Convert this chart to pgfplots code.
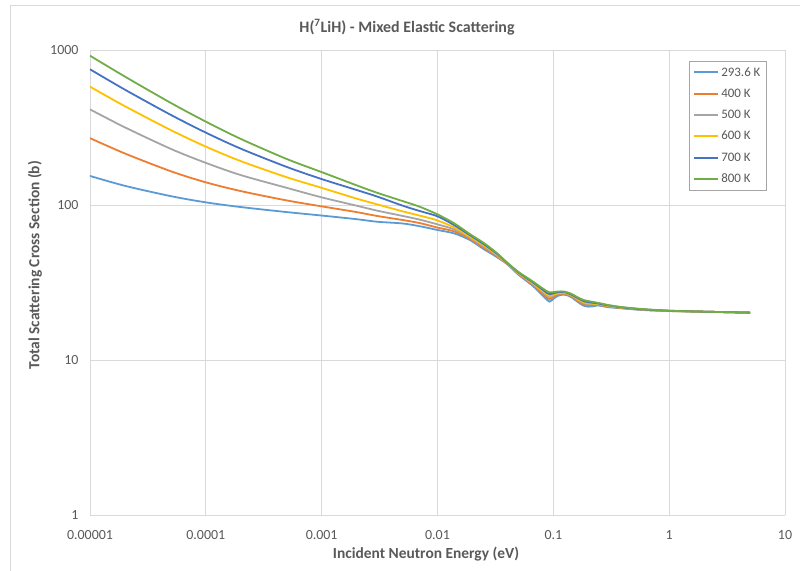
\documentclass[border=0pt]{standalone}
\usepackage{fontspec}
\setmainfont{Carlito}
\usepackage{pgfplots}
\pgfplotsset{compat=1.18}
\definecolor{c1}{HTML}{5B9BD5}
\definecolor{c2}{HTML}{ED7D31}
\definecolor{c3}{HTML}{A5A5A5}
\definecolor{c4}{HTML}{FFC000}
\definecolor{c5}{HTML}{4472C4}
\definecolor{c6}{HTML}{70AD47}
\definecolor{txt}{HTML}{595959}
\definecolor{grd}{HTML}{D9D9D9}
\definecolor{lgb}{HTML}{A6A6A6}
\begin{document}
\begin{tikzpicture}[x=1bp,y=1bp]
\begin{axis}[
  at={(90bp,56bp)}, anchor=south west, scale only axis,
  width=695bp, height=465bp,
  xmode=log, ymode=log,
  xmin=1e-5, xmax=10, ymin=1, ymax=1000,
  xtick={1e-5,1e-4,1e-3,1e-2,1e-1,1,10},
  xticklabels={0.00001,0.0001,0.001,0.01,0.1,1,10},
  ytick={1,10,100,1000},
  yticklabels={1,10,100,1000},
  grid=major,
  major grid style={grd, line width=0.75bp},
  axis line style={draw=none},
  major tick length=0pt, minor tick length=0pt,
  ticklabel style={font=\fontsize{14}{16}\selectfont, text=txt},
  xticklabel style={yshift=-12bp},
  yticklabel style={xshift=-8bp},
  legend style={at={(rel axis cs:0.862,0.977)}, anchor=north west,
    draw=lgb, font=\fontsize{13}{15}\selectfont, text=txt,
    row sep=7.3bp, inner xsep=4bp, inner ysep=4.4bp},
  legend cell align=left,
  legend image code/.code={\draw[#1, line width=2bp] (0bp,0bp) -- (24bp,0bp);},
  every axis plot/.append style={line width=1.8bp, smooth, tension=0.5},
]
\addplot[draw=c1] coordinates {(1e-5,154) (2e-5,133) (5e-5,114) (1e-4,104) (2e-4,97) (5e-4,90) (1e-3,85.5) (2e-3,81) (3e-3,78) (5e-3,76) (7e-3,73) (0.01,69) (0.014,65.5) (0.019,59.5) (0.025,52) (0.032,46.5) (0.04,41.5) (0.05,35.5) (0.065,30.5) (0.078,26.8) (0.088,24.5) (0.093,23.8) (0.1,24.8) (0.11,26.0) (0.125,26.4) (0.142,25.5) (0.165,23.5) (0.185,22.3) (0.2,22.1) (0.22,22.2) (0.24,22.5) (0.27,22.2) (0.3,21.9) (0.4,21.5) (0.6,21.0) (1,20.7) (2,20.5) (5,20.2)};
\addlegendentry{293.6 K}
\addplot[draw=c2] coordinates {(1e-5,270) (2e-5,215) (5e-5,165) (1e-4,140) (2e-4,123) (5e-4,107) (1e-3,98) (2e-3,90) (3e-3,85) (5e-3,80) (7e-3,76.5) (0.01,71.5) (0.014,67.5) (0.019,60.5) (0.025,53) (0.032,47.1) (0.04,41.7) (0.05,35.8) (0.065,30.9) (0.078,27.5) (0.088,25.3) (0.093,24.7) (0.1,25.5) (0.11,26.4) (0.125,26.7) (0.142,25.8) (0.165,23.9) (0.185,22.8) (0.2,22.6) (0.22,22.6) (0.24,22.7) (0.27,22.4) (0.3,22.1) (0.4,21.6) (0.6,21.1) (1,20.7) (2,20.5) (5,20.2)};
\addlegendentry{400 K}
\addplot[draw=c3] coordinates {(1e-5,414) (2e-5,317) (5e-5,230) (1e-4,187) (2e-4,156) (5e-4,129) (1e-3,112) (2e-3,99) (3e-3,92) (5e-3,85) (7e-3,80.5) (0.01,75) (0.014,69.5) (0.019,61.5) (0.025,54) (0.032,47.7) (0.04,41.9) (0.05,36.1) (0.065,31.3) (0.078,28.0) (0.088,26.0) (0.093,25.4) (0.1,26.0) (0.11,26.8) (0.125,26.9) (0.142,26.1) (0.165,24.3) (0.185,23.2) (0.2,23.0) (0.22,22.9) (0.24,22.9) (0.27,22.6) (0.3,22.2) (0.4,21.7) (0.6,21.1) (1,20.75) (2,20.5) (5,20.2)};
\addlegendentry{500 K}
\addplot[draw=c4] coordinates {(1e-5,580) (2e-5,434) (5e-5,304) (1e-4,238) (2e-4,192) (5e-4,151) (1e-3,129) (2e-3,110) (3e-3,101) (5e-3,91) (7e-3,85.5) (0.01,79.5) (0.014,71.5) (0.019,62.5) (0.025,55) (0.032,48.3) (0.04,42.1) (0.05,36.4) (0.065,31.7) (0.078,28.4) (0.088,26.5) (0.093,25.9) (0.1,26.4) (0.11,27.0) (0.125,27.1) (0.142,26.3) (0.165,24.5) (0.185,23.5) (0.2,23.2) (0.22,23.1) (0.24,23.0) (0.27,22.7) (0.3,22.3) (0.4,21.7) (0.6,21.2) (1,20.75) (2,20.5) (5,20.2)};
\addlegendentry{600 K}
\addplot[draw=c5] coordinates {(1e-5,751) (2e-5,555) (5e-5,381) (1e-4,293) (2e-4,231) (5e-4,176) (1e-3,147) (2e-3,125) (3e-3,113.5) (5e-3,99) (7e-3,91.5) (0.01,84.5) (0.014,74) (0.019,64) (0.025,56) (0.032,49) (0.04,42.3) (0.05,36.7) (0.065,32.1) (0.078,29.0) (0.088,27.1) (0.093,26.6) (0.1,26.9) (0.11,27.4) (0.125,27.4) (0.142,26.5) (0.165,24.9) (0.185,23.9) (0.2,23.6) (0.22,23.4) (0.24,23.2) (0.27,22.8) (0.3,22.5) (0.4,21.8) (0.6,21.2) (1,20.8) (2,20.5) (5,20.2)};
\addlegendentry{700 K}
\addplot[draw=c6] coordinates {(1e-5,919) (2e-5,674) (5e-5,455) (1e-4,345) (2e-4,267) (5e-4,198) (1e-3,163) (2e-3,134) (3e-3,120) (5e-3,106) (7e-3,97.5) (0.01,87) (0.014,76) (0.019,65) (0.025,57) (0.032,49.5) (0.04,42.5) (0.05,37) (0.065,32.5) (0.078,29.5) (0.088,27.8) (0.093,27.3) (0.1,27.4) (0.11,27.7) (0.125,27.6) (0.142,26.8) (0.165,25.2) (0.185,24.3) (0.2,24.0) (0.22,23.7) (0.24,23.4) (0.27,23.0) (0.3,22.6) (0.4,21.9) (0.6,21.3) (1,20.8) (2,20.5) (5,20.2)};
\addlegendentry{800 K}
\end{axis}
\draw[grd, line width=0.75bp] (10,0) -- (10,566) -- (800,566);
\node[font=\bfseries\fontsize{16}{18}\selectfont, text=txt] at (407,544) {H(\textsuperscript{7}LiH) - Mixed Elastic Scattering};
\node[font=\bfseries\fontsize{15.5}{18}\selectfont, text=txt] at (426,17) {Incident Neutron Energy (eV)};
\node[font=\bfseries\fontsize{15.5}{18}\selectfont, text=txt, rotate=90] at (35,306) {Total Scattering Cross Section (b)};
\pgfresetboundingbox
\path (0,0) rectangle (800,571);
\end{tikzpicture}
\end{document}
